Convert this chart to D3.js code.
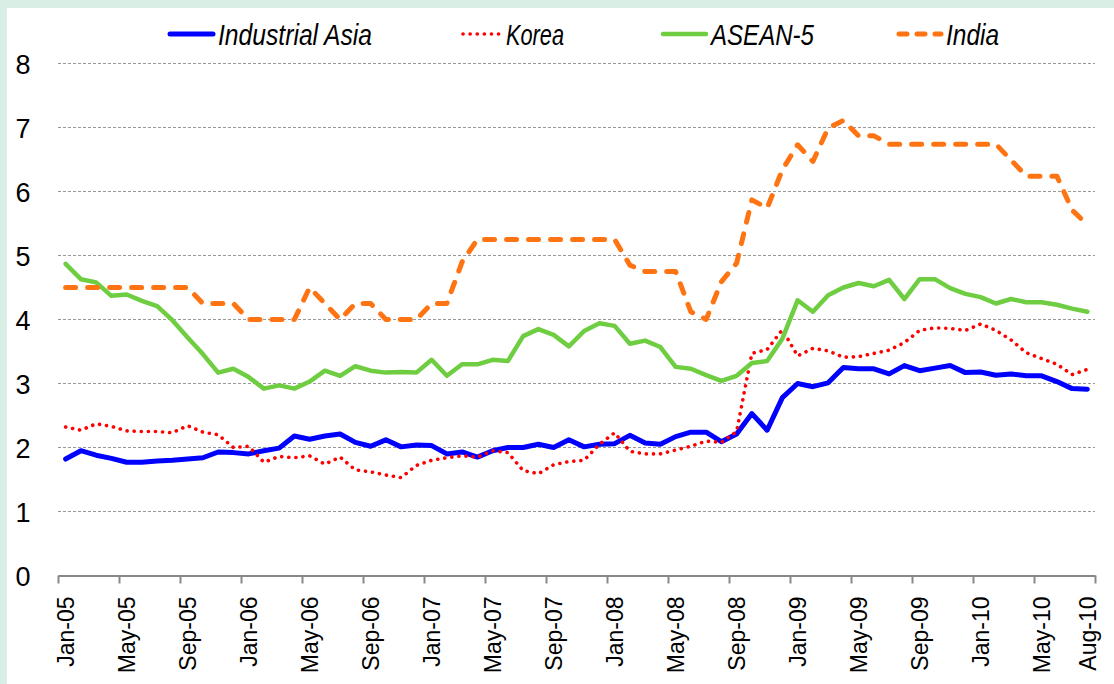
<html>

<head>
    <title>Asia rates</title>
    <meta charset="utf-8" />
    <script src="https://d3js.org/d3.v7.min.js" type="text/JavaScript"></script>
</head>
<style>
    body {
        margin: 0;
        background: #d9efe6;
    }
    svg {
        display: block;
    }
    .grid line {
        stroke: #999;
        stroke-width: 1px;
        stroke-dasharray: 3, 2;
    }
    .ylab {
        font-family: "Liberation Sans", Arial, sans-serif;
        font-size: 27px;
        fill: #000;
    }
    .xaxis text {
        font-family: "Liberation Sans", Arial, sans-serif;
        font-size: 23px;
        fill: #000;
    }
    .legend text {
        font-family: "Liberation Sans", Arial, sans-serif;
        font-style: italic;
        font-size: 29px;
        fill: #000;
    }
</style>

<body>
    <svg id="chart" width="1114" height="684"></svg>

    <script>
        // monthly, Jan-05 .. Aug-10
        var firstMonth = new Date(2005, 0, 1);
        var nMonths = 68;
        var labelIdx = [0, 4, 8, 12, 16, 20, 24, 28, 32, 36, 40, 44, 48, 52, 56, 60, 64, 67];
        var yTicks = [0, 1, 2, 3, 4, 5, 6, 7, 8];

        var seriesNames = ["Industrial Asia", "Korea", "ASEAN-5", "India"];

        var industrialAsia = [
            1.82, 1.95, 1.88, 1.83, 1.77, 1.77, 1.79, 1.80, 1.82, 1.84,
            1.93, 1.92, 1.90, 1.95, 1.99, 2.18, 2.13, 2.18, 2.21, 2.08,
            2.02, 2.12, 2.01, 2.04, 2.03, 1.90, 1.93, 1.85, 1.95, 2.00,
            2.00, 2.05, 2.00, 2.12, 2.01, 2.05, 2.06, 2.19, 2.07, 2.05,
            2.17, 2.24, 2.24, 2.09, 2.21, 2.53, 2.27, 2.78, 3.00, 2.95,
            3.01, 3.25, 3.23, 3.23, 3.15, 3.28, 3.20, 3.24, 3.28, 3.17,
            3.18, 3.13, 3.15, 3.12, 3.12, 3.03, 2.92, 2.91
        ];
        var korea = [
            2.32, 2.27, 2.37, 2.33, 2.26, 2.25, 2.25, 2.23, 2.34, 2.24,
            2.20, 2.00, 2.02, 1.77, 1.86, 1.84, 1.87, 1.74, 1.85, 1.65,
            1.62, 1.57, 1.53, 1.72, 1.80, 1.84, 1.87, 1.85, 1.95, 1.92,
            1.64, 1.59, 1.73, 1.78, 1.80, 2.05, 2.23, 1.94, 1.90, 1.90,
            1.96, 2.02, 2.10, 2.08, 2.25, 3.47, 3.53, 3.84, 3.43, 3.55,
            3.51, 3.41, 3.42, 3.47, 3.52, 3.64, 3.83, 3.87, 3.86, 3.83,
            3.93, 3.83, 3.68, 3.48, 3.39, 3.30, 3.14, 3.22
        ];
        var asean5 = [
            4.87, 4.63, 4.58, 4.37, 4.39, 4.29, 4.21, 3.99, 3.72, 3.46,
            3.17, 3.23, 3.10, 2.92, 2.97, 2.92, 3.03, 3.20, 3.12, 3.27,
            3.20, 3.17, 3.18, 3.17, 3.37, 3.12, 3.30, 3.30, 3.37, 3.35,
            3.74, 3.85, 3.76, 3.58, 3.82, 3.94, 3.90, 3.62, 3.67, 3.57,
            3.26, 3.23, 3.13, 3.04, 3.12, 3.32, 3.35, 3.70, 4.30, 4.12,
            4.38, 4.50, 4.57, 4.52, 4.62, 4.32, 4.63, 4.63, 4.49, 4.40,
            4.35, 4.25, 4.32, 4.27, 4.27, 4.23, 4.17, 4.12
        ];
        var india = [
            4.50, 4.50, 4.50, 4.50, 4.50, 4.50, 4.50, 4.50, 4.50, 4.25,
            4.25, 4.25, 4.00, 4.00, 4.00, 4.00, 4.50, 4.25, 4.00, 4.25,
            4.25, 4.00, 4.00, 4.00, 4.25, 4.25, 4.90, 5.25, 5.25, 5.25,
            5.25, 5.25, 5.25, 5.25, 5.25, 5.25, 5.25, 4.85, 4.75, 4.75,
            4.75, 4.12, 4.00, 4.59, 4.88, 5.87, 5.74, 6.34, 6.73, 6.47,
            6.99, 7.11, 6.87, 6.87, 6.74, 6.74, 6.74, 6.74, 6.74, 6.74,
            6.74, 6.74, 6.49, 6.24, 6.24, 6.24, 5.71, 5.48
        ];

        var months = d3.timeMonth.range(firstMonth, d3.timeMonth.offset(firstMonth, nMonths));
        var fmt = d3.timeFormat("%b-%y");

        var styles = [
            { color: "#0000ff", width: 5, dash: null },
            { color: "#ff0000", width: 3.6, dash: "0.1,7" },
            { color: "#6fcd42", width: 4.5, dash: null },
            { color: "#ff7412", width: 5, dash: "10,12" }
        ];
        var allSeries = [industrialAsia, korea, asean5, india];

        var svg = d3.select("#chart");

        // white panel inside the mint frame
        svg.append("rect")
            .attr("x", 7).attr("y", 8)
            .attr("width", 1107).attr("height", 676)
            .attr("fill", "#fff");

        var x = d3.scaleBand()
            .domain(d3.range(nMonths))
            .range([58, 1095])
            .padding(0);
        var xEdge = d3.scaleLinear().domain([0, nMonths]).range([58, 1095]);
        var y = d3.scaleLinear().domain([0, 8]).range([575.5, 63.5]);

        function cx(i) { return x(i) + x.bandwidth() / 2; }

        // gridlines
        svg.append("g").classed("grid", true)
            .selectAll("line")
            .data(yTicks.slice(1))
            .enter()
            .append("line")
            .attr("x1", 58).attr("x2", 1095)
            .attr("y1", function(d) { return y(d); })
            .attr("y2", function(d) { return y(d); });

        // y labels
        svg.append("g")
            .selectAll("text")
            .data(yTicks)
            .enter()
            .append("text")
            .classed("ylab", true)
            .attr("x", 23)
            .attr("y", function(d) { return y(d) + 10; })
            .attr("text-anchor", "middle")
            .text(function(d) { return d; });

        // x axis: ticks on category edges, labels at category centres
        var edgeAxis = svg.append("g")
            .attr("transform", "translate(0," + y(0) + ")")
            .call(d3.axisBottom(xEdge)
                .tickValues(d3.range(0, nMonths + 1, 4))
                .tickSize(8)
                .tickSizeOuter(0)
                .tickFormat(""));
        edgeAxis.selectAll("path, line").attr("stroke", "#888").attr("stroke-width", 2);

        var labAxis = svg.append("g").classed("xaxis", true)
            .attr("transform", "translate(0," + y(0) + ")")
            .call(d3.axisBottom(x)
                .tickValues(labelIdx)
                .tickSize(0)
                .tickFormat(function(i) { return fmt(months[i]); }));
        labAxis.select(".domain").remove();
        labAxis.selectAll("text")
            .attr("font-family", null)
            .attr("font-size", null)
            .attr("transform", "rotate(-90)")
            .attr("x", -21)
            .attr("y", 0)
            .attr("dy", "0.36em")
            .attr("text-anchor", "end");

        // lines
        var line = d3.line()
            .x(function(d, i) { return cx(i); })
            .y(function(d) { return y(d); });

        svg.append("g")
            .selectAll("path")
            .data(allSeries)
            .enter()
            .append("path")
            .attr("d", line)
            .attr("fill", "none")
            .attr("stroke", function(d, i) { return styles[i].color; })
            .attr("stroke-width", function(d, i) { return styles[i].width; })
            .attr("stroke-dasharray", function(d, i) { return styles[i].dash; })
            .attr("stroke-linecap", "round")
            .attr("stroke-linejoin", "round");

        // legend (text squeezed to the condensed width of the original)
        var legX = [170, 463, 663, 899];
        var legLen = [43, 38, 43, 42];
        var legTextW = [154, 58, 103, 53];
        var leg = svg.append("g").classed("legend", true)
            .selectAll("g")
            .data(seriesNames)
            .enter()
            .append("g")
            .attr("transform", function(d, i) { return "translate(" + legX[i] + ",34)"; });

        leg.append("line")
            .attr("x1", 0).attr("x2", function(d, i) { return legLen[i]; })
            .attr("stroke", function(d, i) { return styles[i].color; })
            .attr("stroke-width", function(d, i) { return styles[i].width; })
            .attr("stroke-dasharray", function(d, i) { return i == 3 ? "8,10" : styles[i].dash; })
            .attr("stroke-linecap", "round");

        leg.append("text")
            .attr("x", function(d, i) { return legLen[i] + 5; })
            .attr("y", 11)
            .attr("textLength", function(d, i) { return legTextW[i]; })
            .attr("lengthAdjust", "spacingAndGlyphs")
            .text(function(d) { return d; });
    </script>
</body>

</html>
